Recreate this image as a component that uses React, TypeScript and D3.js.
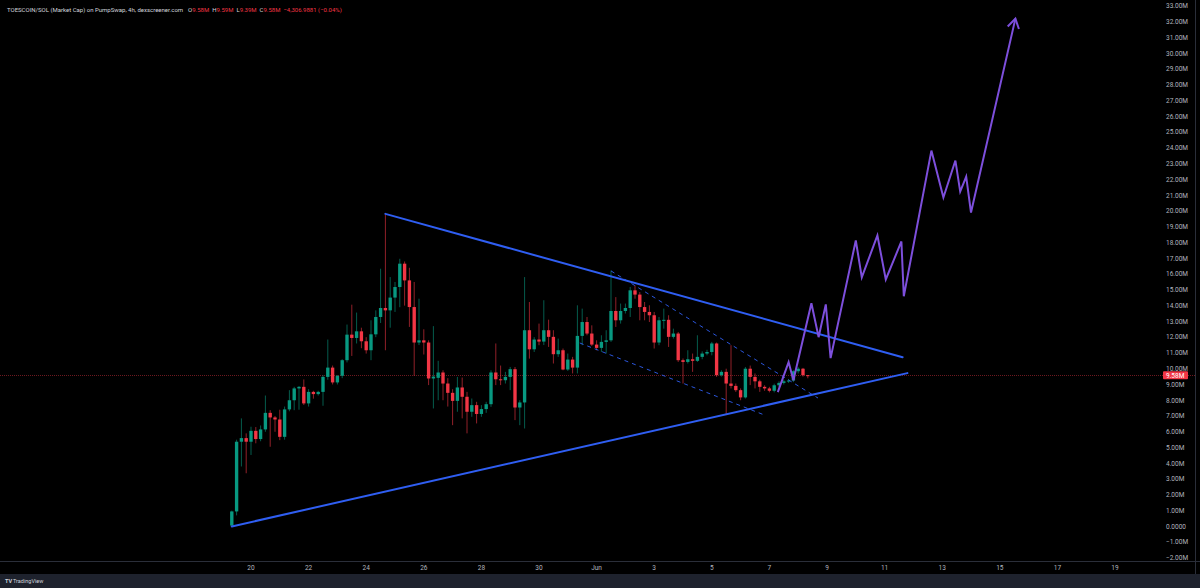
import React, { useEffect, useRef } from 'react';
import * as d3 from 'd3';

const W = 1200;
const H = 588;

// 4h candles, first bar time, [open, high, low, close] in millions
const firstBarTime = '2025-05-19T08:00:00Z';
const candles: [number, number, number, number][] = [
  [0.05, 1.0, 0.0, 0.95], [0.95, 5.5, 0.7, 5.37], [5.37, 6.85, 3.8, 5.6], [5.6, 5.9, 3.37, 5.37],
  [5.37, 6.32, 4.53, 6.06], [6.06, 6.3, 5.27, 5.54], [5.54, 6.4, 5.4, 6.15], [6.15, 8.3, 6.0, 7.2],
  [7.2, 7.37, 5.05, 6.91], [6.91, 7.0, 6.0, 6.78], [6.78, 7.4, 5.47, 5.68], [5.68, 7.6, 5.5, 7.42],
  [7.42, 8.64, 7.3, 8.0], [8.0, 8.85, 7.37, 8.75], [8.75, 8.9, 7.4, 8.85], [8.85, 9.32, 7.7, 7.8],
  [7.8, 8.7, 7.6, 8.53], [8.53, 8.6, 8.1, 8.39], [8.39, 8.6, 8.3, 8.53], [8.53, 9.59, 7.65, 9.48],
  [9.48, 11.85, 9.3, 10.07], [10.07, 10.2, 9.0, 9.13], [9.13, 9.6, 9.0, 9.55], [9.55, 10.6, 9.4, 10.54],
  [10.54, 12.8, 10.4, 12.16], [12.16, 14.06, 10.81, 11.95], [11.95, 13.56, 11.6, 12.37], [12.37, 12.6, 11.3, 11.74],
  [11.74, 12.0, 10.96, 11.17], [11.17, 13.07, 10.54, 12.18], [12.18, 13.7, 12.0, 13.28], [13.28, 16.34, 12.9, 13.85],
  [13.85, 19.82, 11.17, 13.7], [13.7, 15.81, 12.6, 14.51], [14.51, 15.5, 13.6, 15.18], [15.18, 16.97, 13.9, 16.66],
  [16.66, 16.8, 14.0, 15.6], [15.6, 16.4, 12.65, 13.91], [13.91, 15.5, 9.55, 11.66], [11.66, 14.44, 11.5, 11.8],
  [11.8, 12.5, 10.9, 11.66], [11.66, 11.8, 8.96, 9.38], [9.38, 12.7, 7.48, 9.5], [9.42, 10.5, 8.0, 9.76],
  [9.76, 9.9, 8.0, 9.06], [9.06, 9.4, 7.6, 8.47], [8.47, 8.7, 6.42, 7.96], [7.96, 9.48, 7.27, 8.81],
  [8.81, 9.44, 6.85, 8.22], [8.22, 8.53, 5.9, 7.27], [7.27, 8.11, 6.95, 7.69], [7.69, 7.9, 6.53, 7.13],
  [7.13, 7.69, 6.95, 7.44], [7.44, 7.9, 7.2, 7.75], [7.75, 9.9, 7.58, 9.76], [9.76, 11.6, 8.96, 9.33],
  [9.33, 10.2, 8.96, 9.27], [9.27, 9.8, 9.06, 9.48], [9.48, 10.11, 8.64, 9.97], [9.97, 10.11, 6.74, 7.54],
  [7.54, 8.0, 6.42, 7.86], [7.86, 15.81, 6.21, 12.44], [12.44, 14.23, 10.64, 11.23], [11.23, 12.0, 11.06, 11.85],
  [11.85, 12.86, 11.49, 11.72], [11.72, 14.34, 11.5, 12.44], [12.44, 13.11, 11.38, 12.02], [12.02, 12.44, 10.33, 10.92],
  [10.92, 11.91, 10.75, 11.17], [11.17, 11.28, 9.9, 9.95], [9.95, 10.96, 9.86, 10.58], [10.58, 10.75, 9.7, 10.07],
  [10.07, 14.02, 9.7, 12.08], [12.08, 13.81, 11.49, 12.96], [12.96, 13.28, 12.12, 12.23], [12.23, 12.75, 11.44, 11.53],
  [11.53, 11.8, 11.17, 11.32], [11.32, 12.12, 11.06, 11.7], [11.7, 12.44, 10.96, 11.8], [11.8, 16.23, 11.7, 13.66],
  [13.66, 14.54, 12.65, 13.07], [13.07, 14.13, 12.86, 13.66], [13.66, 14.13, 13.5, 13.85], [13.85, 15.18, 13.28, 14.97],
  [14.97, 15.28, 14.44, 14.7], [14.7, 14.86, 13.07, 13.91], [13.91, 14.23, 13.07, 13.6], [13.6, 14.02, 12.96, 13.39],
  [13.39, 13.6, 11.28, 11.66], [11.66, 13.28, 11.49, 13.07], [13.07, 13.81, 12.54, 13.1], [13.1, 13.39, 11.38, 12.02],
  [12.02, 12.54, 11.91, 12.23], [12.23, 12.33, 10.43, 10.54], [10.54, 10.65, 9.06, 10.43], [10.43, 11.17, 10.33, 10.6],
  [10.6, 10.96, 9.8, 10.5], [10.5, 12.12, 10.43, 10.75], [10.75, 11.1, 10.6, 10.96], [10.96, 11.2, 10.85, 11.06],
  [11.06, 11.7, 10.85, 11.6], [11.6, 11.66, 9.48, 9.59], [9.59, 9.9, 9.5, 9.8], [9.8, 10.0, 7.06, 9.06],
  [9.06, 11.49, 8.75, 8.91], [8.91, 9.06, 8.53, 8.64], [8.64, 8.75, 8.0, 8.18], [8.18, 10.11, 8.11, 10.0],
  [10.0, 10.2, 8.96, 9.48], [9.48, 9.7, 8.75, 9.2], [9.2, 9.3, 8.53, 8.85], [8.85, 8.95, 8.6, 8.75],
  [8.75, 8.85, 8.5, 8.6], [8.6, 9.05, 8.5, 8.95], [8.95, 9.2, 8.85, 9.1], [9.1, 9.3, 9.0, 9.2],
  [9.2, 9.35, 9.1, 9.25], [9.25, 9.9, 9.15, 9.84], [9.84, 10.1, 9.7, 10.0], [10.0, 10.05, 9.5, 9.59],
  [9.59, 9.59, 9.39, 9.58],
];

const lastPrice = 9.58;

// drawings: [time, value in M]
const upperTrend: [string, number][] = [['2025-05-24T16:00:00Z', 19.82], ['2025-06-11T15:00:00Z', 10.73]];
const lowerTrend: [string, number][] = [['2025-05-19T08:00:00Z', 0.0], ['2025-06-11T19:00:00Z', 9.72]];
const upperDashed: [string, number][] = [['2025-06-01T12:00:00Z', 16.2], ['2025-06-08T16:30:00Z', 8.14]];
const lowerDashed: [string, number][] = [['2025-05-31T10:00:00Z', 11.63], ['2025-06-06T20:00:00Z', 7.06]];
const projection: [string, number][] = [
  ['2025-06-07T07:00:00Z', 8.52], ['2025-06-07T16:00:00Z', 10.42], ['2025-06-07T20:00:00Z', 9.27],
  ['2025-06-08T11:00:00Z', 14.15], ['2025-06-08T17:00:00Z', 12.0], ['2025-06-08T23:00:00Z', 14.08],
  ['2025-06-09T03:00:00Z', 10.67], ['2025-06-10T00:00:00Z', 18.13], ['2025-06-10T05:00:00Z', 15.79],
  ['2025-06-10T18:00:00Z', 18.45], ['2025-06-11T01:00:00Z', 15.66], ['2025-06-11T14:00:00Z', 18.07],
  ['2025-06-11T16:00:00Z', 14.59], ['2025-06-12T15:00:00Z', 23.83], ['2025-06-13T01:00:00Z', 20.86],
  ['2025-06-13T11:00:00Z', 23.2], ['2025-06-13T15:00:00Z', 21.23], ['2025-06-13T20:00:00Z', 22.18],
  ['2025-06-14T00:00:00Z', 19.9], ['2025-06-15T13:00:00Z', 32.2],
];

const priceTicks = [-2, -1, 0, 1, 2, 3, 4, 5, 6, 7, 8, 9, 10, 11, 12, 13, 14, 15, 16, 17, 18, 19, 20, 21, 22, 23, 24, 25, 26, 27, 28, 29, 30, 31, 32, 33];
const dateTicks = ['2025-05-20', '2025-05-22', '2025-05-24', '2025-05-26', '2025-05-28', '2025-05-30', '2025-06-01', '2025-06-03', '2025-06-05', '2025-06-07', '2025-06-09', '2025-06-11', '2025-06-13', '2025-06-15', '2025-06-17', '2025-06-19'];

const headerTitle = 'TOESCOIN/SOL (Market Cap) on PumpSwap, 4h, dexscreener.com';
const headerValues: [string, string][] = [['O', '9.58M'], ['H', '9.59M'], ['L', '9.39M'], ['C', '9.58M']];
const headerChange = '\u22124,306.9881 (\u22120.04%)';

const GREEN = '#089981';
const RED = '#f23645';
const BLUE = '#2f5ef2';
const PURPLE = '#7d4fdc';
const TEXT = '#b2b5be';
const FONT = 'Roboto, "Liberation Sans", sans-serif';

const App = () => {
  const ref = useRef<SVGSVGElement | null>(null);

  useEffect(() => {
    const svg = d3.select(ref.current);
    svg.selectAll('*').remove();

    const plotW = 1195;
    const plotH = 561;
    const dayPx = 28.8;
    const may20 = new Date('2025-05-20T00:00:00Z').getTime();
    const dayMs = 86400000;

    const x = d3.scaleUtc()
      .domain([new Date(may20 - (251 / dayPx) * dayMs), new Date(may20 + ((plotW - 251) / dayPx) * dayMs)])
      .range([0, plotW]);
    const y = d3.scaleLinear().domain([-2.13, 33.38]).range([560, 0]);

    svg.append('rect').attr('width', W).attr('height', H).attr('fill', '#000000');

    // bottom strip
    svg.append('rect').attr('x', 0).attr('y', 574).attr('width', W).attr('height', H - 574).attr('fill', '#1e222d');
    // separators
    svg.append('line').attr('x1', plotW + 0.5).attr('x2', plotW + 0.5).attr('y1', 0).attr('y2', 574)
      .attr('stroke', '#2a2e39').attr('stroke-width', 1);
    svg.append('line').attr('x1', 0).attr('x2', W).attr('y1', plotH + 0.5).attr('y2', plotH + 0.5)
      .attr('stroke', '#2a2e39').attr('stroke-width', 1);

    const defs = svg.append('defs');
    defs.append('clipPath').attr('id', 'plotClip')
      .append('rect').attr('width', plotW).attr('height', plotH);

    const plot = svg.append('g').attr('clip-path', 'url(#plotClip)');

    // last price line
    plot.append('line')
      .attr('x1', 0).attr('x2', plotW)
      .attr('y1', Math.round(y(lastPrice)) + 0.5).attr('y2', Math.round(y(lastPrice)) + 0.5)
      .attr('stroke', RED).attr('stroke-opacity', 0.45).attr('stroke-width', 1)
      .attr('stroke-dasharray', '1,1');

    // candles
    const t0 = new Date(firstBarTime).getTime();
    const barW = dayPx / 6 * 0.7;
    const bars = plot.append('g').selectAll('g')
      .data(candles)
      .join('g')
      .attr('transform', (_d, i) => `translate(${x(new Date(t0 + i * 4 * 3600000))},0)`);

    bars.append('line')
      .attr('x1', 0).attr('x2', 0)
      .attr('y1', d => y(d[1])).attr('y2', d => y(d[2]))
      .attr('stroke', d => (d[3] >= d[0] ? GREEN : RED))
      .attr('stroke-opacity', 0.6)
      .attr('stroke-width', 1);

    bars.append('rect')
      .attr('x', -barW / 2)
      .attr('width', barW)
      .attr('y', d => y(Math.max(d[0], d[3])))
      .attr('height', d => Math.max(1, Math.abs(y(d[0]) - y(d[3]))))
      .attr('fill', d => (d[3] >= d[0] ? GREEN : RED));

    const line = d3.line<[string, number]>()
      .x(d => x(new Date(d[0])))
      .y(d => y(d[1]));

    [upperDashed, lowerDashed].forEach(seg => {
      plot.append('path').attr('d', line(seg)).attr('fill', 'none')
        .attr('stroke', BLUE).attr('stroke-width', 1).attr('stroke-dasharray', '4,4').attr('stroke-opacity', 0.9);
    });
    [upperTrend, lowerTrend].forEach(seg => {
      plot.append('path').attr('d', line(seg)).attr('fill', 'none')
        .attr('stroke', BLUE).attr('stroke-width', 2).attr('stroke-linecap', 'round');
    });

    plot.append('path').attr('d', line(projection)).attr('fill', 'none')
      .attr('stroke', PURPLE).attr('stroke-width', 2).attr('stroke-linejoin', 'miter');

    // arrow head on the projection
    const pa = projection[projection.length - 2];
    const pb = projection[projection.length - 1];
    const ax = x(new Date(pb[0])), ay = y(pb[1]);
    const ang = Math.atan2(ay - y(pa[1]), ax - x(new Date(pa[0])));
    const headLen = 11, spread = 0.55;
    plot.append('path')
      .attr('d', `M${ax - headLen * Math.cos(ang - spread)},${ay - headLen * Math.sin(ang - spread)}L${ax},${ay}L${ax - headLen * Math.cos(ang + spread)},${ay - headLen * Math.sin(ang + spread)}`)
      .attr('fill', 'none').attr('stroke', PURPLE).attr('stroke-width', 2);

    // price axis
    const pAxis = svg.append('g').attr('font-family', FONT).attr('font-size', 6.5).attr('fill', TEXT);
    pAxis.selectAll('text')
      .data(priceTicks)
      .join('text')
      .attr('x', 1166)
      .attr('y', d => y(d))
      .attr('dy', '0.35em')
      .text(d => (d === 0 ? '0.0000' : d3.format('.2f')(d) + 'M').replace('-', '-'));

    // last price badge
    svg.append('rect').attr('x', 1163).attr('y', y(lastPrice) - 4).attr('width', 25).attr('height', 8)
      .attr('fill', RED).attr('rx', 1);
    svg.append('text').attr('x', 1166).attr('y', y(lastPrice)).attr('dy', '0.35em')
      .attr('font-family', FONT).attr('font-size', 6.5).attr('fill', '#ffffff')
      .text(d3.format('.2f')(lastPrice) + 'M');

    // time axis
    const tAxis = svg.append('g').attr('font-family', FONT).attr('font-size', 6.5).attr('fill', TEXT)
      .attr('text-anchor', 'middle');
    tAxis.selectAll('text')
      .data(dateTicks)
      .join('text')
      .attr('x', d => x(new Date(d + 'T00:00:00Z')))
      .attr('y', 568)
      .attr('dy', '0.35em')
      .text(d => {
        const dt = new Date(d + 'T00:00:00Z');
        return dt.getUTCDate() === 1 ? d3.utcFormat('%b')(dt) : String(dt.getUTCDate());
      });

    // header legend
    const header = svg.append('text').attr('x', 7).attr('y', 10).attr('dy', '0.35em')
      .attr('font-family', FONT).attr('font-size', 6).attr('fill', '#d1d4dc');
    header.append('tspan').text(headerTitle);
    headerValues.forEach(([k, v], i) => {
      header.append('tspan').attr('dx', i === 0 ? 5 : 3).text(k);
      header.append('tspan').attr('fill', RED).text(v);
    });
    header.append('tspan').attr('dx', 3).attr('fill', RED).text(headerChange);

    // TradingView mark
    const tv = svg.append('g').attr('transform', 'translate(5,581)');
    tv.append('text').attr('x', 0).attr('y', 0).attr('dy', '0.35em')
      .attr('font-family', FONT).attr('font-size', 5.5).attr('font-weight', 700).attr('fill', '#d1d4dc')
      .text('TV');
    tv.append('text').attr('x', 8).attr('y', 0).attr('dy', '0.35em')
      .attr('font-family', FONT).attr('font-size', 5.5).attr('fill', '#d1d4dc')
      .text('TradingView');
  }, []);

  return (
    <svg
      ref={ref}
      width={W}
      height={H}
      style={{ position: 'absolute', left: 0, top: 0, display: 'block' }}
    />
  );
};

export default App;
